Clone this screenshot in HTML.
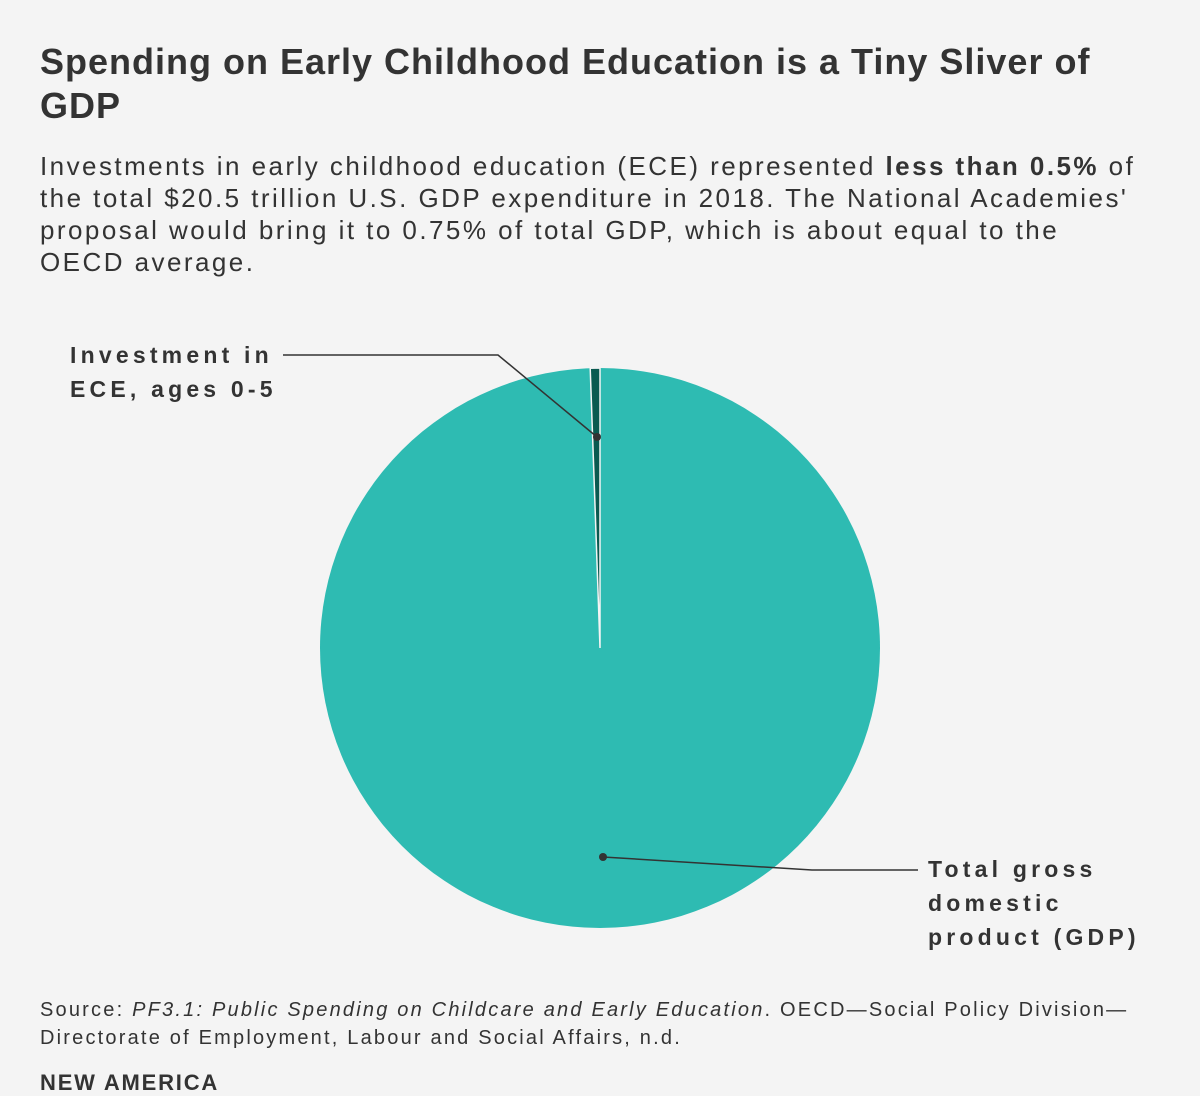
<!DOCTYPE html>
<html><head><meta charset="utf-8"><style>
body{margin:0;background:#f4f4f4;width:1200px;height:1096px;overflow:hidden;font-family:"Liberation Sans",sans-serif;color:#333}
h1{position:absolute;left:40px;top:40px;margin:0;font-size:36px;line-height:44px;font-weight:bold;color:#333;width:1080px;letter-spacing:1px}
.sub{position:absolute;left:40px;top:150px;font-size:26px;line-height:32px;color:#333;letter-spacing:2.45px;white-space:nowrap}
.src{position:absolute;left:40px;top:996px;font-size:20px;line-height:28px;color:#333;letter-spacing:2.2px;white-space:nowrap}
.na{position:absolute;left:40px;top:1070px;font-size:22px;font-weight:bold;color:#333;letter-spacing:1.8px}
.lbl{position:absolute;font-size:23px;font-weight:bold;line-height:34px;letter-spacing:4.2px;color:#333}
</style></head><body>
<h1>Spending on Early Childhood Education is a Tiny Sliver of GDP</h1>
<div class="sub">Investments in early childhood education (ECE) represented <b>less than 0.5%</b> of<br>the total $20.5 trillion U.S. GDP expenditure in 2018. The National Academies'<br>proposal would bring it to 0.75% of total GDP, which is about equal to the<br>OECD average.</div>
<svg width="1200" height="1096" style="position:absolute;left:0;top:0">
<circle cx="600" cy="648" r="280" fill="#2ebbb2"/>
<path d="M600,648 L600,368 A280,280 0 0,0 590.2,368.2 Z" fill="#0a5a50" stroke="#f4f4f4" stroke-width="1.5"/>
<polyline points="283,355 498,355 597,437" fill="none" stroke="#333" stroke-width="1.5"/>
<circle cx="597" cy="437" r="4" fill="#333"/>
<polyline points="603,857 812,870 918,870" fill="none" stroke="#333" stroke-width="1.5"/>
<circle cx="603" cy="857" r="4" fill="#333"/>
</svg>
<div class="lbl" style="left:70px;top:338px">Investment in<br>ECE, ages 0-5</div>
<div class="lbl" style="left:928px;top:852px">Total gross<br>domestic<br>product (GDP)</div>
<div class="src">Source: <i>PF3.1: Public Spending on Childcare and Early Education</i>. OECD—Social Policy Division—<br>Directorate of Employment, Labour and Social Affairs, n.d.</div>
<div class="na">NEW AMERICA</div>
</body></html>
